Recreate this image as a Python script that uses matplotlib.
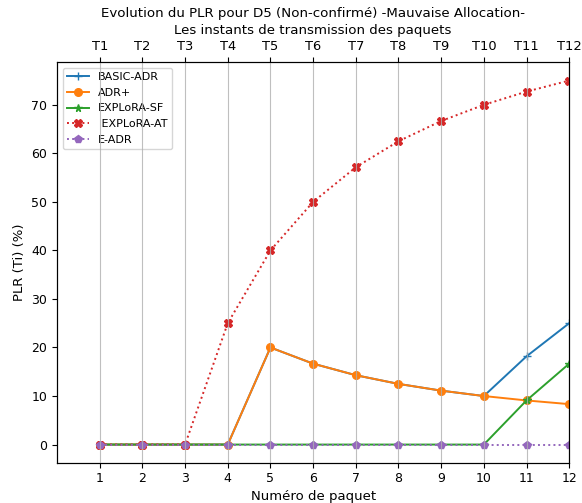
import matplotlib
matplotlib.use("Agg")
import matplotlib.pyplot as plt

# packet numbers and PLR (%) per scheme
paquets = [1, 2, 3, 4, 5, 6, 7, 8, 9, 10, 11, 12]
instants = ["T1", "T2", "T3", "T4", "T5", "T6", "T7", "T8", "T9", "T10", "T11", "T12"]

basic_adr = [0, 0, 0, 0, 20.0, 16.67, 14.29, 12.5, 11.11, 10.0, 18.18, 25.0]
adr_plus = [0, 0, 0, 0, 20.0, 16.67, 14.29, 12.5, 11.11, 10.0, 9.09, 8.33]
explora_sf = [0, 0, 0, 0, 0, 0, 0, 0, 0, 0, 9.09, 16.67]
explora_at = [0, 0, 0, 25.0, 40.0, 50.0, 57.14, 62.5, 66.67, 70.0, 72.73, 75.0]
e_adr = [0, 0, 0, 0, 0, 0, 0, 0, 0, 0, 0, 0]

plt.rcParams['xtick.labelsize'] = 9
plt.rcParams['ytick.labelsize'] = 9

fig, ax = plt.subplots(figsize=(5.82, 5.03), dpi=100)
fig.subplots_adjust(left=0.098, right=0.978, top=0.876, bottom=0.080)

lw, ms = 1.4, 5.5
ax.plot(paquets, basic_adr, marker='+', lw=lw, ms=ms, label='BASIC-ADR')
ax.plot(paquets, adr_plus, marker='o', lw=lw, ms=ms, label='ADR+')
ax.plot(paquets, explora_sf, marker='*', lw=lw, ms=ms, label='EXPLoRA-SF')
ax.plot(paquets, explora_at, marker='X', linestyle=':', lw=lw, ms=ms, label=' EXPLoRA-AT')
ax.plot(paquets, e_adr, marker='p', linestyle=':', lw=lw, ms=ms, label='E-ADR')

ax.set_xlim(0, 12)
ax.set_xticks(paquets)
ax.set_xlabel('Numéro de paquet', fontsize=9.5, labelpad=3)
ax.set_ylabel('PLR (Ti) (%)', fontsize=9.5)
ax.legend(loc='upper left', fontsize=8)

# top axis with transmission instants
ax2 = ax.twiny()
ax2.set_xlim(ax.get_xlim())
ax2.set_xticks(paquets)
ax2.set_xticklabels(instants, fontsize=9.4)
ax2.set_xlabel('Les instants de transmission des paquets', fontsize=9.6, labelpad=4)
ax2.grid(True, axis='x', color='#b0b0b0', alpha=0.8)
ax2.set_title('Evolution du PLR pour D5 (Non-confirmé) -Mauvaise Allocation-', fontsize=9.6, pad=5)

plt.savefig('out.png')
